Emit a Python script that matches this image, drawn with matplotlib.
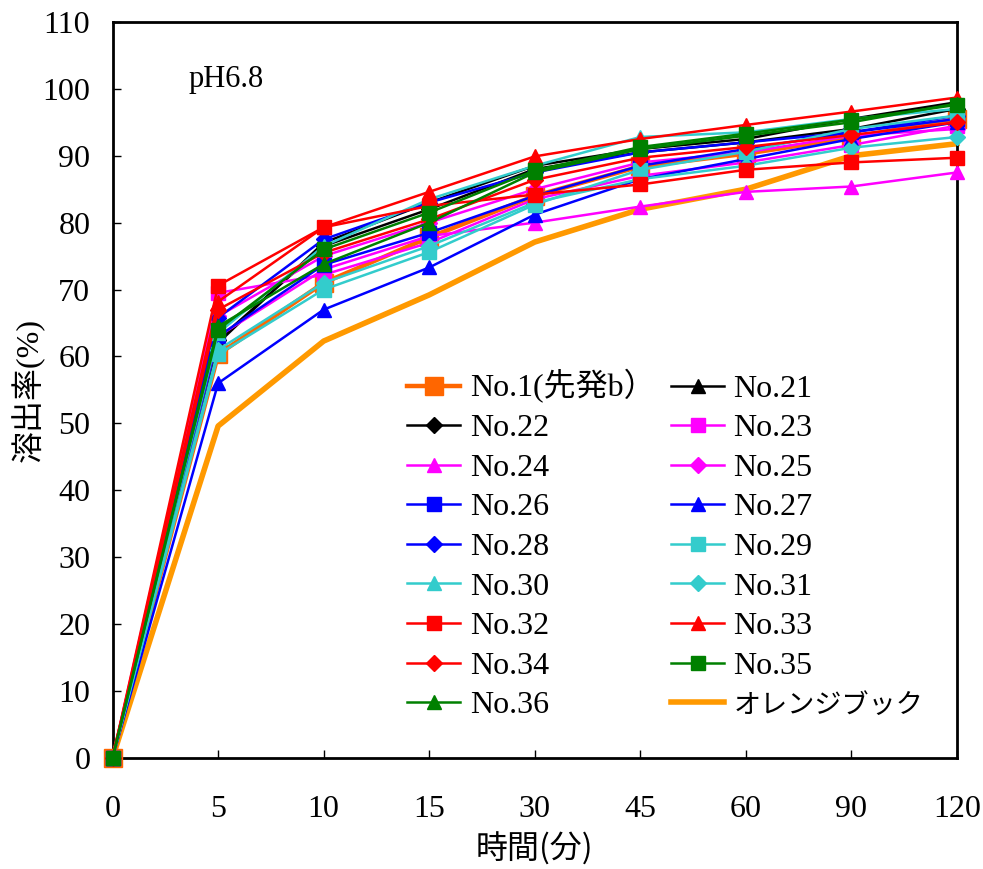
import matplotlib
matplotlib.use("Agg")
import matplotlib.pyplot as plt

plt.rcParams['font.family'] = ['Liberation Serif', 'Noto Sans CJK JP']
CJK_FIRST = ['Noto Sans CJK JP', 'Liberation Serif']

times = ["0", "5", "10", "15", "30", "45", "60", "90", "120"]

no1  = [0, 60.3, 71.0, 77.8, 84.0, 88.4, 90.3, 92.7, 95.5]
no21 = [0, 62.0, 77.0, 83.0, 88.5, 91.0, 92.5, 95.5, 98.0]
no22 = [0, 62.5, 76.5, 82.0, 88.0, 90.5, 92.0, 94.0, 97.0]
no23 = [0, 69.5, 72.2, 77.0, 83.5, 87.0, 89.0, 91.6, 94.5]
no24 = [0, 63.0, 73.0, 78.0, 80.0, 82.4, 84.6, 85.4, 87.5]
no25 = [0, 66.0, 75.0, 80.0, 85.0, 89.0, 90.5, 93.0, 94.0]
no26 = [0, 63.0, 73.7, 78.5, 84.0, 88.5, 91.0, 93.5, 95.5]
no27 = [0, 56.0, 67.0, 73.3, 81.2, 86.5, 89.5, 92.5, 95.0]
no28 = [0, 65.8, 77.5, 83.0, 87.5, 90.5, 92.0, 93.5, 96.0]
no29 = [0, 60.3, 70.0, 75.6, 82.7, 87.9, 90.6, 94.0, 96.0]
no30 = [0, 63.5, 76.5, 83.5, 88.5, 92.8, 93.5, 95.5, 97.0]
no31 = [0, 61.0, 71.0, 76.5, 83.0, 86.5, 88.5, 91.2, 92.8]
no32 = [0, 70.6, 79.3, 82.5, 84.2, 85.7, 87.9, 89.0, 89.7]
no33 = [0, 68.2, 79.3, 84.6, 89.9, 92.5, 94.6, 96.6, 98.7]
no34 = [0, 67.0, 75.5, 80.5, 86.4, 89.7, 91.3, 93.1, 95.0]
no35 = [0, 64.0, 76.0, 81.5, 87.8, 91.3, 93.3, 95.4, 97.6]
no36 = [0, 64.5, 73.8, 80.0, 87.5, 91.0, 93.0, 95.0, 97.8]
orange_book = [0, 49.6, 62.3, 69.2, 77.1, 82.0, 85.0, 90.0, 91.8]

series = [
    ("No.1(先発b）", no1, "#FF6600", "s", 3.2, 13),
    ("No.21", no21, "black", "^", 1.8, 10),
    ("No.22", no22, "black", "D", 1.8, 8),
    ("No.23", no23, "#FF00FF", "s", 1.8, 10),
    ("No.24", no24, "#FF00FF", "^", 1.8, 10),
    ("No.25", no25, "#FF00FF", "D", 1.8, 8),
    ("No.26", no26, "#0000FF", "s", 1.8, 10),
    ("No.27", no27, "#0000FF", "^", 1.8, 10),
    ("No.28", no28, "#0000FF", "D", 1.8, 8),
    ("No.29", no29, "#33CCCC", "s", 1.8, 10),
    ("No.30", no30, "#33CCCC", "^", 1.8, 10),
    ("No.31", no31, "#33CCCC", "D", 1.8, 8),
    ("No.32", no32, "#FF0000", "s", 1.8, 10),
    ("No.33", no33, "#FF0000", "^", 1.8, 10),
    ("No.34", no34, "#FF0000", "D", 1.8, 8),
    ("No.35", no35, "#008000", "s", 1.8, 10),
    ("No.36", no36, "#008000", "^", 1.8, 10),
]

fig = plt.figure(figsize=(9.83, 8.69), dpi=100)
ax = fig.add_axes([0.1145, 0.1278, 0.859, 0.8470])

x = list(range(len(times)))
handles = []
for label, vals, col, mk, lw, ms in series:
    h, = ax.plot(x, vals, color=col, marker=mk, lw=lw, ms=ms,
                 markeredgecolor=col, label=label, clip_on=False, zorder=3)
    handles.append(h)
h, = ax.plot(x, orange_book, color="#FF9900", lw=4, label="オレンジブック",
             clip_on=False, zorder=2.5)
handles.append(h)

ax.set_xlim(0, len(times) - 1)
ax.set_ylim(0, 110)
ax.set_xticks(x)
ax.set_xticklabels(times)
ax.set_yticks(range(0, 111, 10))
ax.tick_params(direction='in', length=6, width=1, labelsize=23)
ax.tick_params(axis='x', pad=27)
ax.tick_params(axis='y', pad=16)
for s in ax.spines.values():
    s.set_linewidth(2)

ax.set_xlabel("時間(分)", fontsize=23, family=CJK_FIRST, labelpad=6)
ax.set_ylabel("溶出率(%)", fontsize=23, labelpad=-2)

ax.text(0.09, 0.922, "pH6.8", transform=ax.transAxes, fontsize=22,
        ha='left', va='center')

ordered = handles[0::2] + handles[1::2]
leg = ax.legend(handles=ordered, ncol=2, frameon=False, fontsize=23,
                loc='upper left', bbox_to_anchor=(0.334, 0.545),
                handlelength=1.65, handletextpad=0.3, columnspacing=0.5,
                labelspacing=0.32, borderaxespad=0)
leg.get_texts()[-1].set_fontsize(19.5)

fig.savefig("out.png", dpi=100)
